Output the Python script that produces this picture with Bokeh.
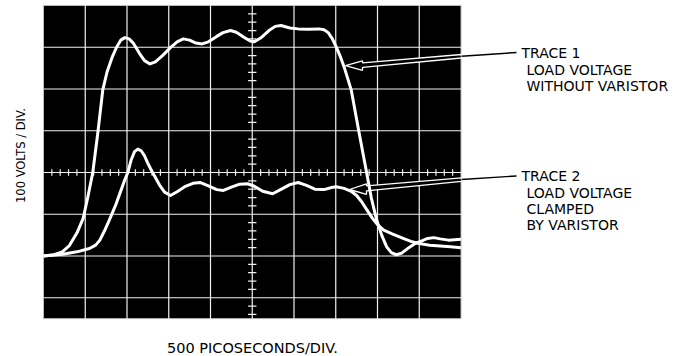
import numpy as np
from bokeh.plotting import figure
from bokeh.models import Range1d, Label
from bokeh.embed import file_html
from bokeh.resources import INLINE

# ---- data (in screen divisions: x = 500 ps/div, y = 100 V/div, 0 = centre line) ----
trace1_x = [0.0, 0.25, 0.45, 0.62, 0.8, 0.95, 1.06, 1.18, 1.3, 1.42, 1.52, 1.64, 1.75, 1.85, 1.95,
            2.05, 2.15, 2.3, 2.42, 2.55, 2.68, 2.85, 3.04, 3.2, 3.35, 3.5, 3.65, 3.8, 3.95, 4.15,
            4.3, 4.48, 4.62, 4.8, 4.95, 5.05, 5.2, 5.4, 5.55, 5.69, 5.9, 6.1, 6.35, 6.6, 6.72,
            6.82, 6.92, 7.01, 7.1, 7.2, 7.37, 7.55, 7.73, 7.85, 7.97, 8.1, 8.22, 8.33, 8.45, 8.58,
            8.75, 8.9, 9.06, 9.2, 9.35, 9.5, 9.7, 9.85, 10.0]
trace1_y = [-2.0, -1.97, -1.9, -1.75, -1.45, -1.1, -0.6, 0.0, 0.94, 1.98, 2.4, 2.75, 3.0, 3.17, 3.23,
            3.2, 3.1, 2.85, 2.68, 2.6, 2.65, 2.8, 2.99, 3.13, 3.2, 3.17, 3.1, 3.08, 3.13, 3.26,
            3.35, 3.4, 3.36, 3.24, 3.15, 3.13, 3.22, 3.4, 3.5, 3.52, 3.46, 3.44, 3.43, 3.44, 3.42,
            3.35, 3.2, 3.01, 2.8, 2.53, 1.98, 1.0, 0.05, -0.6, -1.1, -1.5, -1.78, -1.92, -1.97, -1.93,
            -1.8, -1.7, -1.64, -1.58, -1.56, -1.59, -1.62, -1.61, -1.6]

trace2_x = [0.0, 0.46, 0.8, 1.1, 1.25, 1.35, 1.45, 1.55, 1.64, 1.74, 1.83, 1.93, 2.02, 2.1, 2.18,
            2.26, 2.34, 2.42, 2.5, 2.58, 2.67, 2.78, 2.9, 3.04, 3.2, 3.4, 3.58, 3.76, 3.95, 4.15,
            4.31, 4.5, 4.7, 4.89, 5.05, 5.25, 5.49, 5.7, 5.9, 6.1, 6.3, 6.5, 6.72, 6.9, 7.01,
            7.2, 7.37, 7.5, 7.62, 7.75, 7.88, 8.0, 8.15, 8.35, 8.6, 8.8, 9.0, 9.25, 9.5, 9.75, 10.0]
trace2_y = [-2.0, -1.96, -1.9, -1.82, -1.74, -1.62, -1.42, -1.2, -0.99, -0.75, -0.5, -0.22, 0.0, 0.3, 0.5,
            0.56, 0.52, 0.4, 0.22, 0.06, -0.1, -0.3, -0.47, -0.55, -0.46, -0.33, -0.26, -0.24, -0.32, -0.41,
            -0.43, -0.35, -0.28, -0.27, -0.33, -0.45, -0.51, -0.4, -0.29, -0.24, -0.31, -0.4, -0.41, -0.36, -0.34,
            -0.38, -0.45, -0.55, -0.7, -0.9, -1.1, -1.25, -1.38, -1.47, -1.57, -1.65, -1.7, -1.74, -1.76, -1.78, -1.8]

label1 = ["TRACE 1", "LOAD VOLTAGE", "WITHOUT VARISTOR"]
label2 = ["TRACE 2", "LOAD VOLTAGE", "CLAMPED", "BY VARISTOR"]
y_title = "100 VOLTS / DIV."
x_title = "500 PICOSECONDS/DIV."

# ---- geometry helpers (reference pixel -> division units) ----
PX = 41.75
OX, OY = 43.0, 172.0
def dx(px):
    return (px - OX) / PX
def dy(py):
    return (OY - py) / PX

W, H = 697, 356
p = figure(width=W, height=H, output_backend="svg", toolbar_location=None,
           x_range=Range1d(dx(0), dx(W)), y_range=Range1d(dy(H), dy(0)),
           x_axis_location=None, y_axis_location=None, title=None,
           min_border=0, min_border_left=0, min_border_right=0,
           min_border_top=0, min_border_bottom=0)
p.grid.visible = False
p.outline_line_color = None
p.background_fill_color = "white"
p.border_fill_color = "white"

# scope screen
p.quad(left=[0], right=[10], bottom=[-3.5], top=[4.0], fill_color="black",
       line_color="#bbbbbb", line_width=1)

grid_col = "#f2f2f2"
# grid lines
vx = list(range(1, 10))
p.segment(x0=vx, y0=[-3.5] * len(vx), x1=vx, y1=[4.0] * len(vx), line_color=grid_col, line_width=1.2)
hy = [-3, -2, -1, 0, 1, 2, 3]
p.segment(x0=[0] * len(hy), y0=hy, x1=[10] * len(hy), y1=hy, line_color=grid_col, line_width=1.2)

# minor ticks on centre axes
tx = [round(v, 2) for v in np.arange(0.2, 10.0, 0.2) if abs(v - round(v)) > 1e-6]
p.segment(x0=tx, y0=[-0.08] * len(tx), x1=tx, y1=[0.08] * len(tx), line_color=grid_col, line_width=1.2)
ty = [round(v, 2) for v in np.arange(-3.4, 4.0, 0.2) if abs(v - round(v)) > 1e-6]
p.segment(x0=[4.9] * len(ty), y0=ty, x1=[5.1] * len(ty), y1=ty, line_color=grid_col, line_width=1.2)

# hollow arrows (inside screen) and leader lines (outside)
arrow1_px = [(461, 54), (362, 62.3), (362, 60.3), (345, 65.2), (362, 69.8), (362, 66.8), (461, 57.5)]
arrow2_px = [(461, 177.3), (366, 185.3), (366, 183.3), (349, 189.0), (366, 193.8), (366, 190.3), (461, 180.8)]
for poly in (arrow1_px, arrow2_px):
    p.patch([dx(a) for a, b in poly], [dy(b) for a, b in poly], fill_color="black",
            line_color="white", line_width=1.3)
p.line([dx(461), dx(516)], [dy(55.7), dy(52)], line_color="black", line_width=1.4)
p.line([dx(461), dx(516)], [dy(179.0), dy(175.5)], line_color="black", line_width=1.4)

# traces
p.line(trace1_x, trace1_y, line_color="white", line_width=3, line_join="round")
p.line(trace2_x, trace2_y, line_color="white", line_width=3, line_join="round")

FONT = "DejaVu Sans"
def add_text(x_px, y_px, txt, size="14px", angle=0.0, align="left"):
    p.add_layout(Label(x=dx(x_px), y=dy(y_px), text=txt, text_font=FONT, text_font_size=size,
                       text_color="black", text_baseline="middle", text_align=align, angle=angle))

add_text(521, 52, label1[0])
add_text(526, 69, label1[1])
add_text(526, 85, label1[2])
add_text(521, 175, label2[0])
add_text(526, 192, label2[1])
add_text(526, 208, label2[2])
add_text(526, 224, label2[3])

add_text(20, 155, y_title, size="11.5px", angle=np.pi / 2, align="center")
add_text(252, 347, x_title, size="14.5px", align="center")

open("out.html", "w").write(file_html(p, INLINE))
